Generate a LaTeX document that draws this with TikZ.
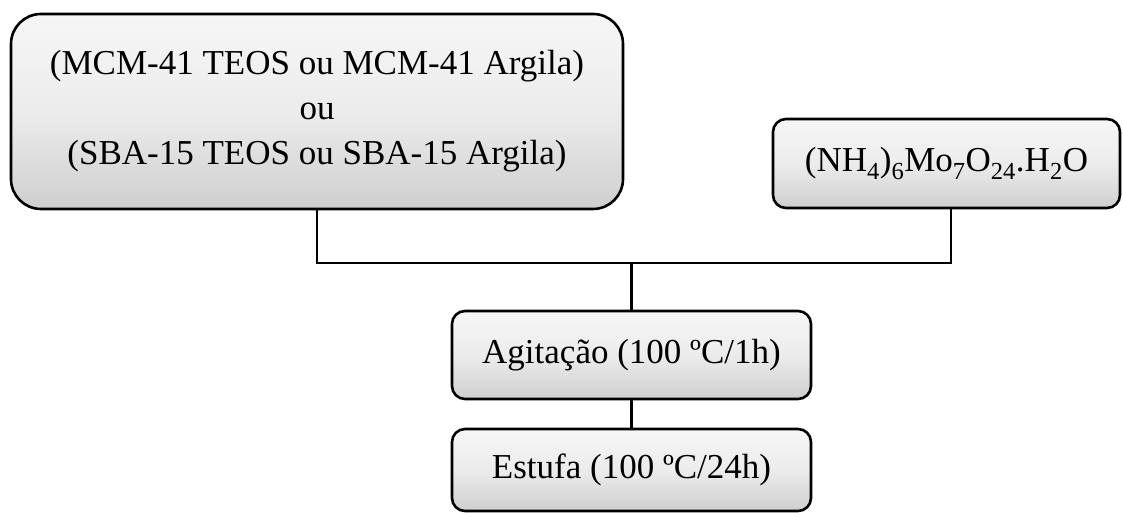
\documentclass[tikz,border=0pt]{standalone}
\usepackage{fontspec}
\setmainfont{Liberation Serif}
\begin{document}
\begin{tikzpicture}[x=1pt,y=1pt,
  boxstyle/.style={draw=black, line width=2.6pt, top color=gray!7, bottom color=gray!38, middle color=gray!15,
    align=center, inner sep=0pt, font=\fontsize{35}{37}\selectfont},
  conn/.style={draw=black, line width=2.4pt}]
\useasboundingbox (0,0) rectangle (1123,513);
\node[boxstyle, rounded corners=30pt, minimum width=612pt, minimum height=195pt] (b1) at (317,401.5)
  {(MCM-41 TEOS ou MCM-41 Argila)\\[8pt]ou\\[8pt](SBA-15 TEOS ou SBA-15 Argila)};
\node[boxstyle, rounded corners=13pt, minimum width=347pt, minimum height=89pt] (b2) at (946.5,349.5)
  {(NH\textsubscript{4})\textsubscript{6}Mo\textsubscript{7}O\textsubscript{24}.H\textsubscript{2}O};
\node[boxstyle, rounded corners=13pt, minimum width=359pt, minimum height=88pt] (b3) at (631.5,158)
  {Agitação (100 ºC/1h)};
\node[boxstyle, rounded corners=13pt, minimum width=359pt, minimum height=82pt] (b4) at (631.5,43)
  {Estufa (100 ºC/24h)};
\coordinate (j) at (631.5,250);
\draw[conn] (b1.south) |- (j);
\draw[conn] ([xshift=4.5pt]b2.south) |- (j);
\draw[conn] (j) -- (b3.north);
\draw[conn] (b3.south) -- (b4.north);
\end{tikzpicture}
\end{document}
